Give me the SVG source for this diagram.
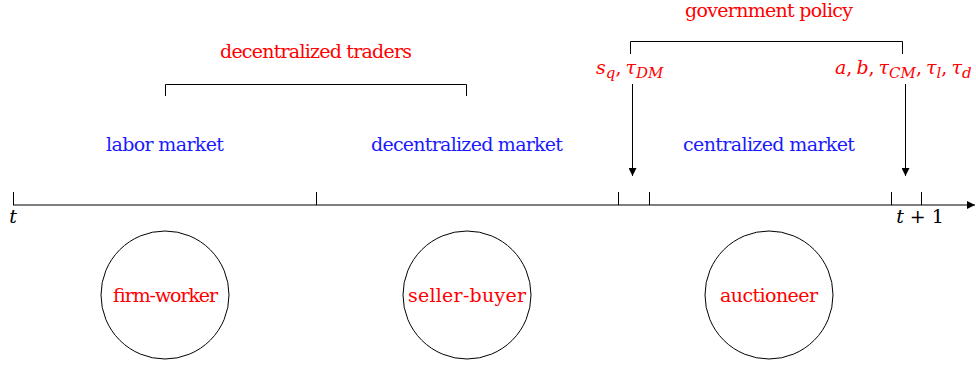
<svg xmlns="http://www.w3.org/2000/svg" width="976" height="368" viewBox="0 0 976 368">
<style>
.ln{stroke:#000;stroke-width:1;fill:none}
text{font-family:'DejaVu Serif','Liberation Serif',serif;font-size:19px}
.red{fill:#ff0000}
.blue{fill:#1a1aff}
.blk{fill:#000}
.it{font-style:italic}
.sub{font-size:15px;font-style:italic}
</style>
<defs>
<marker id="ah" viewBox="0 0 10 10" refX="10" refY="5" markerWidth="8" markerHeight="8" markerUnits="userSpaceOnUse" orient="auto">
<path d="M0,0 L10,5 L0,10 Z" fill="#000"/>
</marker>
</defs>
<g id="connectors">
<line class="ln" x1="13" y1="205" x2="975" y2="205" marker-end="url(#ah)"/>
<path class="ln" d="M13.5,192 V205 M316.5,192 V205 M618.5,192 V205 M649.5,192 V205 M891.5,192 V205 M921.5,192 V205"/>
<path class="ln" d="M165.5,96 V84.5 H466.5 V96"/>
<path class="ln" d="M630.5,54 V41.5 H902.5 V54"/>
<line class="ln" x1="632.5" y1="84" x2="632.5" y2="176" marker-end="url(#ah)"/>
<line class="ln" x1="905.5" y1="84" x2="905.5" y2="176" marker-end="url(#ah)"/>
</g>
<g id="labels">
<text class="red" x="769" y="17" text-anchor="middle" textLength="168">government policy</text>
<text class="red" x="316" y="58" text-anchor="middle" textLength="192">decentralized traders</text>
<text class="blue" x="165" y="151" text-anchor="middle" textLength="118">labor market</text>
<text class="blue" x="467" y="151" text-anchor="middle" textLength="192">decentralized market</text>
<text class="blue" x="769" y="151" text-anchor="middle" textLength="172">centralized market</text>
<text class="red" x="596" y="74" font-size="21"><tspan class="it">s</tspan><tspan class="sub" dy="4">q</tspan><tspan dy="-4">,</tspan><tspan class="it" dx="4">τ</tspan><tspan class="sub" dy="4">DM</tspan></text>
<text class="red" x="835" y="74" font-size="21"><tspan class="it">a</tspan>,<tspan class="it" dx="4">b</tspan>,<tspan class="it" dx="4">τ</tspan><tspan class="sub" dy="4">CM</tspan><tspan dy="-4">,</tspan><tspan class="it" dx="4">τ</tspan><tspan class="sub" dy="4">l</tspan><tspan dy="-4">,</tspan><tspan class="it" dx="4">τ</tspan><tspan class="sub" dy="4">d</tspan></text>
<text class="blk it" x="13" y="223" text-anchor="middle" font-size="20">t</text>
<text class="blk" x="920" y="223" text-anchor="middle" font-size="20"><tspan class="it">t</tspan> + 1</text>
</g>
<g id="firm-worker">
<circle class="ln" cx="165" cy="295" r="64"/>
<text class="red" x="165" y="302" text-anchor="middle" textLength="105">firm-worker</text>
</g>
<g id="seller-buyer">
<circle class="ln" cx="467" cy="295" r="64"/>
<text class="red" x="467" y="302" text-anchor="middle" textLength="118">seller-buyer</text>
</g>
<g id="auctioneer">
<circle class="ln" cx="769" cy="295" r="64"/>
<text class="red" x="769" y="302" text-anchor="middle" textLength="98">auctioneer</text>
</g>
</svg>
